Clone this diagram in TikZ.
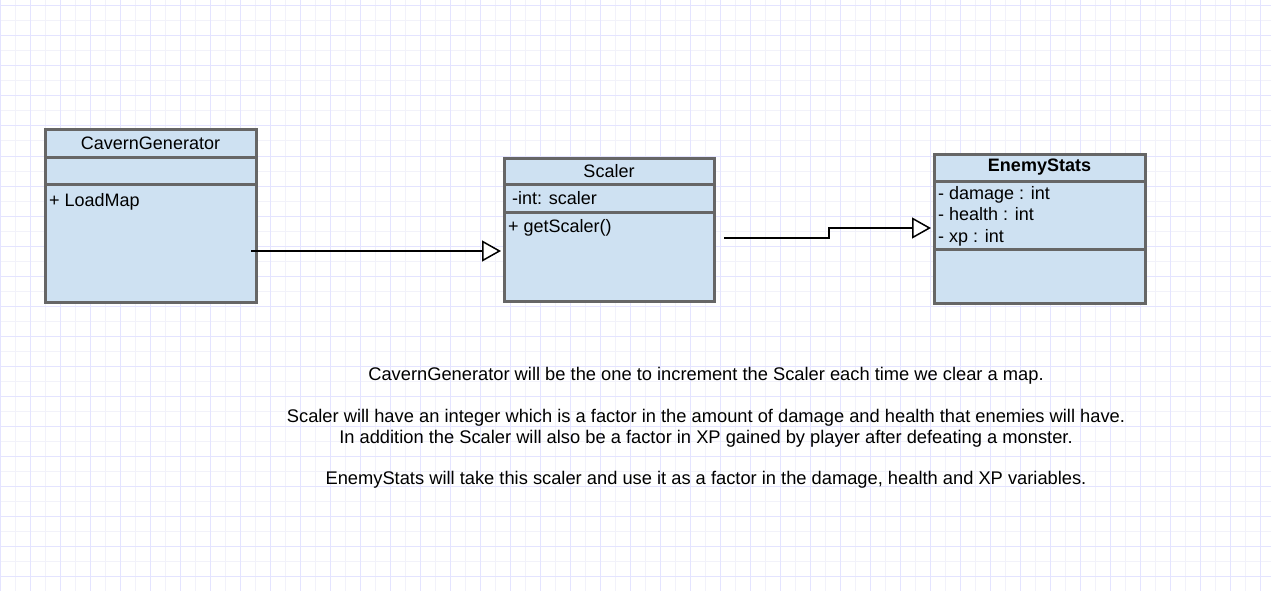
\documentclass[tikz,border=0pt]{standalone}
\usepackage{fontspec}
\setmainfont{Liberation Sans}
\usetikzlibrary{positioning,arrows.meta}

\definecolor{classfill}{RGB}{206,225,242}
\definecolor{classline}{RGB}{102,102,102}
\definecolor{gridmajor}{RGB}{228,228,255}
\definecolor{gridminor}{RGB}{242,242,250}
\newcommand{\umlfont}{\fontsize{18pt}{21pt}\selectfont}
\newcommand{\notefont}{\fontsize{18.3pt}{21pt}\selectfont}

\tikzset{
  classhead/.style={draw=classline, line width=3pt, fill=classfill, inner sep=0pt, outer sep=0pt, anchor=north west, minimum width=211pt, font=\umlfont},
  classpart/.style={draw=classline, line width=3pt, fill=classfill, inner sep=0pt, outer sep=0pt, minimum width=211pt},
  member/.style={anchor=base west, inner sep=0pt, font=\umlfont},
  note/.style={anchor=base, inner sep=0pt, font=\notefont},
  assoc/.style={line width=1.5pt, -{Triangle[open, length=19pt, width=21pt, fill=white, line width=1.5pt]}, shorten >=3pt},
}

\begin{document}
\begin{tikzpicture}[x=1pt,y=-1pt]
    \useasboundingbox (0,0) rectangle (1271,591);
    \fill[white] (0,0) rectangle (1271,591);
    % grid
    \foreach \gx in {15,45,...,1271} \draw[gridminor,line width=1pt] (\gx,0) -- (\gx,591);
    \foreach \gy in {21,51,...,591} \draw[gridminor,line width=1pt] (0,\gy) -- (1271,\gy);
    \foreach \gx in {0,30,...,1271} \draw[gridmajor,line width=1pt] (\gx,0) -- (\gx,591);
    \foreach \gy in {6,36,...,591} \draw[gridmajor,line width=1pt] (0,\gy) -- (1271,\gy);

    % CavernGenerator
    \node[classhead, minimum height=27pt] (cg-head) at (45,130) {CavernGenerator};
    \node[classpart, minimum height=27pt, below=0pt of cg-head] (cg-attr) {};
    \node[classpart, minimum height=118pt, below=0pt of cg-attr] (cg-ops) {};
    \node[member] (cg-load) at ([xshift=4pt,yshift=-22pt]cg-ops.north west) {+ LoadMap};

    % Scaler
    \node[classhead, minimum width=210pt, minimum height=26pt] (sc-head) at (504,158) {Scaler};
    \node[classpart, minimum width=210pt, minimum height=28pt, below=0pt of sc-head] (sc-attr) {};
    \node[classpart, minimum width=210pt, minimum height=89pt, below=0pt of sc-attr] (sc-ops) {};
    \node[member] (sc-int) at ([xshift=8pt,yshift=-20pt]sc-attr.north west) {-int: scaler};
    \node[member] (sc-get) at ([xshift=4pt,yshift=-20pt]sc-ops.north west) {+ getScaler()};

    % EnemyStats
    \node[classhead, minimum height=27pt] (es-head) at (934,154) {\bfseries EnemyStats};
    \node[classpart, minimum height=68pt, below=0pt of es-head] (es-attr) {};
    \node[classpart, minimum height=54pt, below=0pt of es-attr] (es-ops) {};
    \node[member] (es-dmg) at ([xshift=4pt,yshift=-18pt]es-attr.north west) {- damage : int};
    \node[member] (es-hp) at ([yshift=-21.5pt]es-dmg.base west) {- health : int};
    \node[member] (es-xp) at ([yshift=-21.5pt]es-hp.base west) {- xp : int};

    % connectors
    \coordinate (cg-out) at (251,251);
    \coordinate (sc-out) at (724,238);
    \coordinate (sc-bend) at (829,238);
    \draw[assoc] (cg-out) -- (cg-out -| sc-ops.west);
    \draw[assoc] (sc-out) -- (sc-bend) |- ([yshift=-13pt]es-attr.west);

    % notes
    \node[note] (note-cg) at (706,380) {CavernGenerator will be the one to increment the Scaler each time we clear a map.};
    \node[note] (note-sc1) at (706,422) {Scaler will have an integer which is a factor in the amount of damage and health that enemies will have.};
    \node[note] (note-sc2) at (706,443) {In addition the Scaler will also be a factor in XP gained by player after defeating a monster.};
    \node[note] (note-es) at (706,484) {EnemyStats will take this scaler and use it as a factor in the damage, health and XP variables.};
\end{tikzpicture}
\end{document}
